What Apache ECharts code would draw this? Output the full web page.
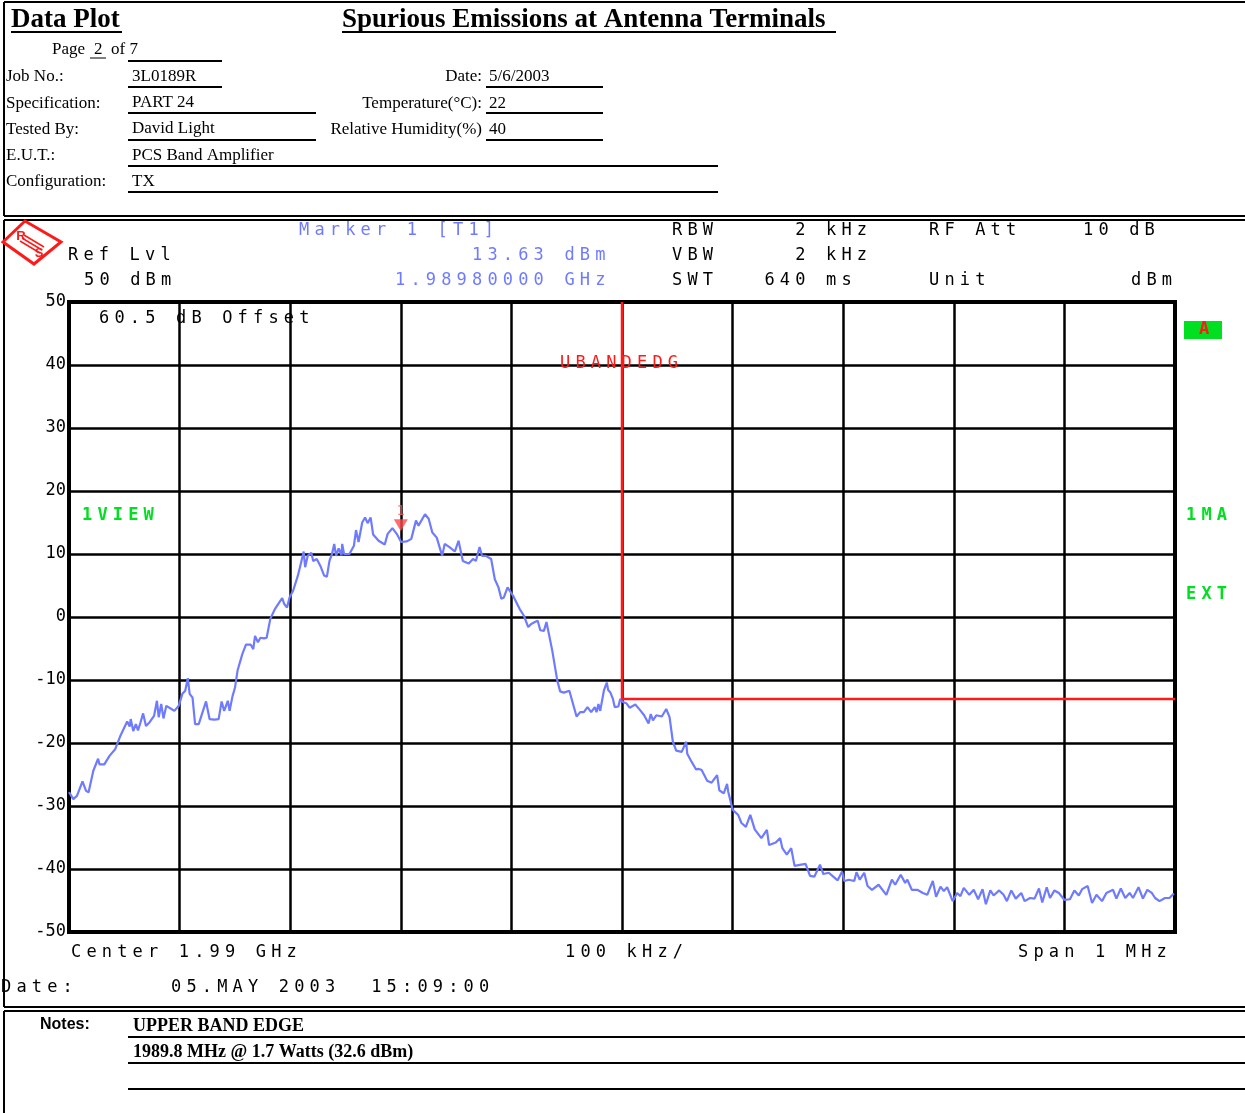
<!DOCTYPE html>
<html>
<head>
<meta charset="utf-8">
<title>Spurious Emissions at Antenna Terminals</title>
<script src="https://cdn.jsdelivr.net/npm/echarts@6/dist/echarts.min.js"></script>
<style>
  html, body { margin: 0; padding: 0; background: #fff; }
  #chart { width: 1245px; height: 1113px; }
</style>
</head>
<body>
<div id="chart"></div>
<script>
// Trace: frequency (MHz) and level (dBm)
const traceFreq = [
  1985.000, 1985.039, 1985.072, 1985.122, 1985.154, 1985.177, 1985.220, 1985.263, 1985.276, 1985.319,
  1985.368, 1985.417, 1985.466, 1985.526, 1985.549, 1985.558, 1985.581, 1985.604, 1985.624, 1985.647,
  1985.670, 1985.696, 1985.729, 1985.769, 1985.795, 1985.811, 1985.834, 1985.854, 1985.880, 1985.926,
  1985.953, 1985.992, 1986.025, 1986.051, 1986.074, 1986.091, 1986.117, 1986.140, 1986.173, 1986.239,
  1986.271, 1986.314, 1986.353, 1986.380, 1986.403, 1986.436, 1986.452, 1986.478, 1986.501, 1986.524,
  1986.567, 1986.600, 1986.643, 1986.666, 1986.682, 1986.708, 1986.731, 1986.764, 1986.787, 1986.820,
  1986.863, 1986.912, 1986.928, 1986.945, 1986.971, 1986.994, 1987.027, 1987.070, 1987.102, 1987.122,
  1987.135, 1987.158, 1987.191, 1987.208, 1987.240, 1987.273, 1987.306, 1987.332, 1987.355, 1987.378,
  1987.398, 1987.415, 1987.438, 1987.464, 1987.470, 1987.487, 1987.536, 1987.576, 1987.595, 1987.618,
  1987.651, 1987.677, 1987.700, 1987.727, 1987.750, 1987.799, 1987.855, 1987.881, 1987.924, 1987.963,
  1988.003, 1988.055, 1988.095, 1988.137, 1988.160, 1988.219, 1988.252, 1988.285, 1988.325, 1988.374,
  1988.397, 1988.440, 1988.489, 1988.522, 1988.561, 1988.614, 1988.653, 1988.679, 1988.712, 1988.735,
  1988.768, 1988.817, 1988.850, 1988.883, 1988.909, 1988.932, 1988.965, 1988.982, 1989.014, 1989.074,
  1989.113, 1989.152, 1989.179, 1989.212, 1989.238, 1989.261, 1989.294, 1989.317, 1989.369, 1989.415,
  1989.441, 1989.474, 1989.524, 1989.589, 1989.622, 1989.655, 1989.688, 1989.721, 1989.754, 1989.770,
  1989.787, 1989.803, 1989.836, 1989.862, 1989.875, 1989.895, 1989.918, 1989.934, 1989.967, 1989.984,
  1990.007, 1990.04, 1990.07, 1990.12, 1990.16, 1990.20, 1990.24, 1990.26, 1990.28, 1990.31,
  1990.36, 1990.40, 1990.43, 1990.46, 1990.49, 1990.54, 1990.58, 1990.59, 1990.63, 1990.67,
  1990.69, 1990.72, 1990.77, 1990.81, 1990.86, 1990.88, 1990.92, 1990.95, 1990.96, 1991.00,
  1991.05, 1991.08, 1991.12, 1991.16, 1991.20, 1991.26, 1991.31, 1991.33, 1991.39, 1991.43,
  1991.45, 1991.49, 1991.53, 1991.56, 1991.62, 1991.66, 1991.70, 1991.74, 1991.79, 1991.82,
  1991.87, 1991.91, 1991.95, 1991.99, 1992.01, 1992.05, 1992.10, 1992.12, 1992.15, 1992.19,
  1992.22, 1992.26, 1992.32, 1992.39, 1992.44, 1992.47, 1992.52, 1992.56, 1992.58, 1992.62,
  1992.67, 1992.72, 1992.76, 1992.81, 1992.84, 1992.88, 1992.91, 1992.94, 1992.99, 1993.03,
  1993.06, 1993.09, 1993.14, 1993.18, 1993.22, 1993.26, 1993.29, 1993.33, 1993.36, 1993.41,
  1993.45, 1993.48, 1993.52, 1993.56, 1993.61, 1993.64, 1993.69, 1993.73, 1993.77, 1993.80,
  1993.84, 1993.87, 1993.91, 1993.95, 1994.00, 1994.05, 1994.09, 1994.13, 1994.16, 1994.21,
  1994.25, 1994.29, 1994.34, 1994.38, 1994.44, 1994.47, 1994.51, 1994.55, 1994.59, 1994.62,
  1994.67, 1994.71, 1994.75, 1994.79, 1994.82, 1994.86, 1994.91, 1994.95, 1994.99
]
const traceLevel = [
  -27.8, -28.9, -28.4, -26.1, -27.6, -27.8, -24.4, -22.5, -23.4, -23.4,
  -22.0, -21.0, -18.8, -16.6, -17.4, -16.2, -18.1, -17.0, -18.0, -16.7,
  -15.3, -17.3, -16.7, -15.7, -13.3, -15.9, -13.8, -16.1, -14.1, -14.6,
  -14.9, -14.1, -12.2, -11.7, -9.7, -12.2, -12.8, -17.0, -17.0, -13.4,
  -16.2, -16.3, -16.2, -13.4, -14.9, -13.3, -14.9, -12.6, -11.2, -8.5,
  -5.9, -4.4, -4.4, -5.1, -3.0, -4.0, -3.3, -3.4, -3.3, -0.3,
  1.3, 2.6, 3.0, 2.1, 1.5, 3.1, 4.2, 6.6, 8.9, 10.4,
  7.9, 9.7, 10.2, 8.9, 9.2, 8.1, 6.6, 6.4, 8.9, 10.0,
  11.6, 9.7, 10.9, 9.8, 11.6, 10.0, 10.0, 11.3, 13.8, 11.9,
  15.0, 15.8, 14.9, 15.8, 13.1, 12.1, 11.5, 13.2, 14.1, 13.2,
  11.9, 12.0, 12.4, 15.3, 14.5, 16.3, 15.6, 13.4, 12.6, 9.7,
  11.6, 11.1, 10.4, 12.1, 8.9, 8.5, 9.2, 8.9, 11.1, 9.7,
  9.7, 9.2, 6.0, 4.7, 2.9, 3.1, 4.7, 5.0, 3.4, 1.3,
  0.2, -1.6, -1.1, -0.8, -0.6, -2.1, -2.2, -0.8, -5.3, -10.1,
  -11.8, -12.0, -11.7, -15.8, -15.1, -15.1, -14.3, -15.1, -14.3, -15.1,
  -13.8, -14.9, -11.7, -10.4, -11.6, -12.0, -13.0, -14.3, -14.2, -13.0,
  -13.5, -13.7, -14.4, -13.9, -14.7, -15.6, -16.9, -15.4, -16.4, -15.6,
  -15.8, -14.6, -15.9, -19.8, -21.2, -21.4, -19.8, -21.7, -23.0, -24.2,
  -24.1, -24.3, -26.0, -26.3, -25.1, -27.5, -28.0, -26.5, -27.7, -30.6,
  -31.4, -32.7, -33.3, -31.4, -33.7, -35.1, -33.8, -36.2, -35.8, -35.1,
  -36.7, -37.7, -36.7, -39.5, -39.3, -39.2, -41.1, -41.2, -39.3, -40.8,
  -40.6, -41.2, -41.8, -40.4, -41.9, -41.7, -41.9, -40.5, -41.7, -40.6,
  -42.7, -43.3, -42.5, -44.1, -41.7, -42.5, -40.9, -42.2, -41.7, -43.3,
  -43.3, -43.8, -44.1, -41.9, -44.4, -42.8, -43.5, -42.9, -45.1, -43.8,
  -44.3, -43.0, -44.1, -43.3, -44.8, -43.2, -45.6, -43.4, -44.2, -43.4,
  -44.1, -45.1, -43.4, -44.7, -43.8, -45.1, -44.6, -44.7, -43.1, -45.3,
  -42.9, -44.6, -43.4, -43.8, -44.9, -44.8, -43.4, -44.2, -43.2, -42.7,
  -45.4, -44.1, -45.1, -43.8, -43.3, -44.7, -43.1, -44.6, -43.8, -44.6,
  -42.9, -44.7, -43.3, -43.8, -44.6, -45.1, -44.6, -44.6, -43.9
]

// Upper band edge limit line (MHz, dBm)
const limitFreq = [1990, 1990, 1995]
const limitLevel = [50, -13, -13]

// Marker 1
const markerFreq = [1988.0]
const markerLevel = [13.63]

const zip = (xs, ys) => xs.map((x, i) => [x, ys[i]])

const MONO = '"DejaVu Sans Mono", monospace'
const SERIF = '"Liberation Serif", "Times New Roman", serif'
const SANS = '"Liberation Sans", Arial, sans-serif'
const PITCH = 15.4

// one glyph per cell, like the analyzer screen font
const mono = (str, x, y, color, size, weight) => str.split('').map((ch, i) => ch === ' ' ? null : {
  type: 'text', x: x + i * PITCH, y: y + 2, z: 20,
  style: {
    text: ch, fill: color || '#000',
    font: (weight || 'normal') + ' ' + (size || 17) + 'px ' + MONO,
    align: 'left', verticalAlign: 'middle', textAlign: 'left', textVerticalAlign: 'middle'
  }
}).filter(Boolean)

const txt = (str, x, y, font, align, color) => ({
  type: 'text', x: x, y: y, z: 20,
  style: {
    text: str, fill: color || '#000', font: font,
    align: align || 'left', verticalAlign: 'middle', textAlign: align || 'left', textVerticalAlign: 'middle'
  }
})

const hline = (x1, x2, y, w) => ({ type: 'line', z: 20, shape: { x1: x1, y1: y, x2: x2, y2: y }, style: { stroke: '#000', lineWidth: w || 2 } })
const vline = (x, y1, y2, w) => ({ type: 'line', z: 20, shape: { x1: x, y1: y1, x2: x, y2: y2 }, style: { stroke: '#000', lineWidth: w || 2 } })

const blue = '#6f7bff'
const green = '#00e020'
const red = '#ff1a1a'

const F16 = '17px ' + SERIF

const graphics = [
  // document frame
  hline(4, 1245, 2, 2), vline(4, 2, 216, 2),
  hline(4, 1245, 216, 2), hline(4, 1245, 220, 2),
  vline(4, 220, 1007, 2),
  hline(4, 1245, 1007, 2), hline(4, 1245, 1011, 2),
  vline(4, 1011, 1113, 2),

  // header
  txt('Data Plot', 11, 20, 'bold 27px ' + SERIF), hline(11, 122, 32, 2),
  txt('Spurious Emissions at Antenna Terminals', 342, 20, 'bold 27px ' + SERIF), hline(342, 836, 32, 2),

  txt('Page', 52, 50, F16), txt('2', 94, 50, F16), hline(90, 106, 58, 1), txt('of 7', 111, 50, F16),
  hline(128, 222, 61, 2),
  txt('Job No.:', 6, 77, F16), txt('3L0189R', 132, 77, F16), hline(128, 222, 87, 2),
  txt('Specification:', 6, 104, F16), txt('PART 24', 132, 103, F16), hline(128, 316, 113, 2),
  txt('Tested By:', 6, 130, F16), txt('David Light', 132, 129, F16), hline(128, 316, 140, 2),
  txt('E.U.T.:', 6, 156, F16), txt('PCS Band Amplifier', 132, 156, F16), hline(128, 718, 166, 2),
  txt('Configuration:', 6, 182, F16), txt('TX', 132, 182, F16), hline(128, 718, 192, 2),
  txt('Date:', 482, 77, F16, 'right'), txt('5/6/2003', 489, 77, F16), hline(486, 603, 87, 2),
  txt('Temperature(\u00B0C):', 482, 104, F16, 'right'), txt('22', 489, 104, F16), hline(486, 603, 113, 2),
  txt('Relative Humidity(%)', 482, 130, F16, 'right'), txt('40', 489, 130, F16), hline(486, 603, 140, 2),

  // R&S logo
  {
    type: 'polygon', z: 20,
    shape: { points: [[3, 242], [25, 221], [61, 242], [34, 264]] },
    style: { fill: 'none', stroke: red, lineWidth: 3 }
  },
  { type: 'line', z: 20, shape: { x1: 22, y1: 238, x2: 42, y2: 250 }, style: { stroke: red, lineWidth: 1.5 } },
  { type: 'line', z: 20, shape: { x1: 24, y1: 235, x2: 44, y2: 247 }, style: { stroke: red, lineWidth: 1.5 } },
  { type: 'line', z: 20, shape: { x1: 20, y1: 241, x2: 40, y2: 253 }, style: { stroke: red, lineWidth: 1.5 } },
  txt('R', 21, 236, 'bold 13px ' + SANS, 'center', red),
  txt('S', 39, 253, 'bold 13px ' + SANS, 'center', red),

  // analyzer header
  ...mono('Marker 1 [T1]', 299, 229, blue),
  ...mono('13.63 dBm', 472, 254, blue),
  ...mono('1.98980000 GHz', 395, 279, blue),
  ...mono('Ref Lvl', 68, 254),
  ...mono('50 dBm', 84, 279),
  ...mono('RBW     2 kHz', 672, 229),
  ...mono('VBW     2 kHz', 672, 254),
  ...mono('SWT   640 ms', 672, 279),
  ...mono('RF Att    10 dB', 929, 229),
  ...mono('Unit', 929, 279),
  ...mono('dBm', 1131, 279),

  // in-plot annotations
  ...mono('60.5 dB Offset', 99, 317),
  ...mono('UBANDEDG', 560, 362, red),
  ...mono('1VIEW', 82, 514, green, 17, 'bold'),

  // right side
  { type: 'rect', z: 20, shape: { x: 1184, y: 321, width: 38, height: 18 }, style: { fill: green } },
  ...mono('A', 1199, 328, red, 17, 'bold'),
  ...mono('1MA', 1186, 514, green, 17, 'bold'),
  ...mono('EXT', 1186, 593, green, 17, 'bold'),

  // below plot
  ...mono('Center 1.99 GHz', 71, 951),
  ...mono('100 kHz/', 565, 951),
  ...mono('Span 1 MHz', 1018, 951),
  ...mono('Date:', 1, 986),
  ...mono('05.MAY 2003  15:09:00', 171, 986),

  // notes
  txt('Notes:', 40, 1025, 'bold 16px ' + SANS),
  txt('UPPER BAND EDGE', 133, 1026, 'bold 18px ' + SERIF), hline(128, 1245, 1037, 2),
  txt('1989.8 MHz @ 1.7 Watts (32.6 dBm)', 133, 1052, 'bold 18px ' + SERIF), hline(128, 1245, 1063, 2),
  hline(128, 1245, 1089, 2)
]

const chart = echarts.init(document.getElementById('chart'))

const option = {
  animation: false,
  backgroundColor: '#fff',
  grid: {
    left: 69, top: 302, width: 1106, height: 630,
    show: true, borderColor: '#000', borderWidth: 4, backgroundColor: 'transparent'
  },
  xAxis: {
    type: 'value', min: 1985, max: 1995, interval: 1,
    axisLine: { show: false }, axisTick: { show: false }, axisLabel: { show: false },
    splitLine: { lineStyle: { color: '#000', width: 2.5 } }
  },
  yAxis: {
    type: 'value', min: -50, max: 50, interval: 10,
    axisLine: { show: false }, axisTick: { show: false },
    axisLabel: { color: '#000', fontFamily: 'DejaVu Sans Mono', fontSize: 17, margin: 3 },
    splitLine: { lineStyle: { color: '#000', width: 2.5 } }
  },
  series: [
    {
      name: 'Trace 1', type: 'line', data: zip(traceFreq, traceLevel),
      showSymbol: false, symbol: 'none', z: 3,
      lineStyle: { color: blue, width: 2.2 }
    },
    {
      name: 'Limit', type: 'line', data: zip(limitFreq, limitLevel),
      showSymbol: false, symbol: 'none', z: 4,
      lineStyle: { color: red, width: 2.5 }
    },
    {
      name: 'Marker 1', type: 'scatter', data: zip(markerFreq, markerLevel), z: 5,
      symbol: 'triangle', symbolRotate: 180, symbolSize: [14, 12], symbolOffset: [0, -6],
      itemStyle: { color: '#ff4a4a' },
      label: {
        show: true, formatter: '1', position: 'top', distance: 1,
        color: '#ff5a5a', fontFamily: 'DejaVu Sans Mono', fontSize: 14
      }
    }
  ],
  graphic: { elements: graphics }
}

chart.setOption(option)
</script>
</body>
</html>
